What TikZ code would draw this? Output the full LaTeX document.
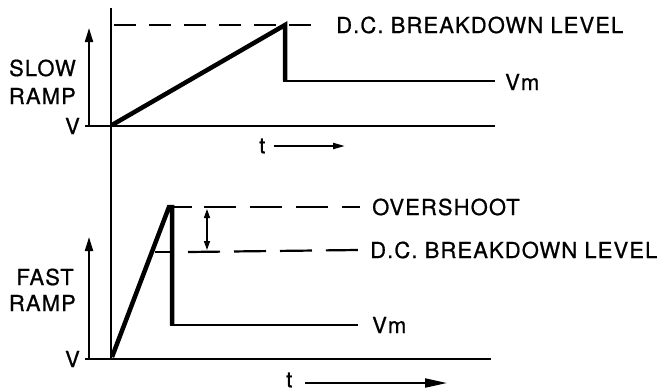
\documentclass[tikz,border=0pt]{standalone}
\usepackage{fontspec}
\setmainfont{TeX Gyre Heros}[LetterSpace=5,FakeBold=0.8]
\usetikzlibrary{arrows.meta}
\begin{document}
\begin{tikzpicture}[x=1pt,y=-1pt,
  axis/.style={line width=2pt},
  ramp/.style={line width=4.5pt, line join=miter},
  lvl/.style={line width=2.4pt},
  dsh/.style={line width=2.2pt, dash pattern=on 22pt off 13pt},
  dshb/.style={line width=2.2pt, dash pattern=on 32pt off 14pt},
  lbl/.style={font=\fontsize{22}{24}\selectfont, inner sep=0pt, anchor=west},
  up/.style={line width=2pt, -{Triangle[length=14pt,width=8pt]}},
  tarrow/.style={line width=2pt, -{Triangle[length=12pt,width=6pt]}}]
\useasboundingbox (0,0) rectangle (669,391);
% vertical axis
\coordinate (vtop) at (111,8);
\coordinate (vbot) at (111,359);
\draw[axis] (vtop) -- (vbot);
% ---------- top panel ----------
\coordinate (ta0) at (85,126);
\coordinate (ta1) at (495,126);
\draw[axis] (ta0) -- (ta1);
\coordinate (sa0) at (89,126);
\coordinate (sa1) at (89,28);
\draw[up] (sa0) -- (sa1);
\node[lbl, anchor=east] (slow) at (76,68) {SLOW};
\node[lbl, anchor=east] (sramp) at (76,96) {RAMP};
\node[lbl, anchor=east] (sv) at (80,126) {V};
\node[lbl] (dc1) at (336,25) {D.C. BREAKDOWN LEVEL};
\coordinate (d0) at (114,25);
\draw[dsh] (d0) -- ([xshift=-12pt]dc1.west);
\coordinate (r0) at (112,125);
\coordinate (r1) at (285,25);
\coordinate (r2) at (285,81);
\node[lbl] (vm1) at (505,82) {Vm};
\draw[ramp] (r0) -- (r1) -- (r2);
\coordinate (h1) at (495,81);
\draw[lvl] (283,81) -- (h1);
\node[lbl] (t1) at (259,146) {t};
\coordinate (t1e) at (345,146);
\draw[tarrow] ([xshift=8pt]t1.east) -- (t1e);
% ---------- bottom panel ----------
\coordinate (ba0) at (85,359);
\coordinate (ba1) at (491,359);
\draw[axis] (ba0) -- (ba1);
\coordinate (fa0) at (89,359);
\coordinate (fa1) at (89,237);
\draw[up] (fa0) -- (fa1);
\node[lbl, anchor=east] (fast) at (74,277) {FAST};
\node[lbl, anchor=east] (framp) at (76,303) {RAMP};
\node[lbl, anchor=east] (fv) at (80,359) {V};
\node[lbl] (os) at (372,207) {OVERSHOOT};
\node[lbl] (dc2) at (370,250) {D.C. BREAKDOWN LEVEL};
\coordinate (f0) at (112,357);
\coordinate (f1) at (169,207);
\coordinate (f2) at (172,207);
\coordinate (f3) at (172,325);
\draw[ramp] (f0) -- (f1) -- (f2) -- (f3);
\node[lbl] (vm2) at (372,325) {Vm};
\draw[lvl] (170,325) -- ([xshift=-14pt]vm2.west);
\coordinate (os0) at (172,207);
\draw[lvl] (os0) -- (192,207);
\draw[dshb] (204,207) -- ([xshift=-12pt]os.west);
\coordinate (b0) at (155,252);
\draw[lvl] (b0) -- (172,252);
\draw[dshb] (188,252) -- ([xshift=-12pt]dc2.west);
\coordinate (oa) at (207,209);
\coordinate (ob) at (207,250);
\draw[line width=1.4pt, {Triangle[length=9pt,width=6pt]}-{Triangle[length=9pt,width=6pt]}] (oa) -- (ob);
\node[lbl] (t2) at (286,380) {t};
\coordinate (t2e) at (447,383);
\draw[line width=2pt, -{Triangle[length=22pt,width=9pt]}] (305,383) -- (t2e);
\end{tikzpicture}
\end{document}
